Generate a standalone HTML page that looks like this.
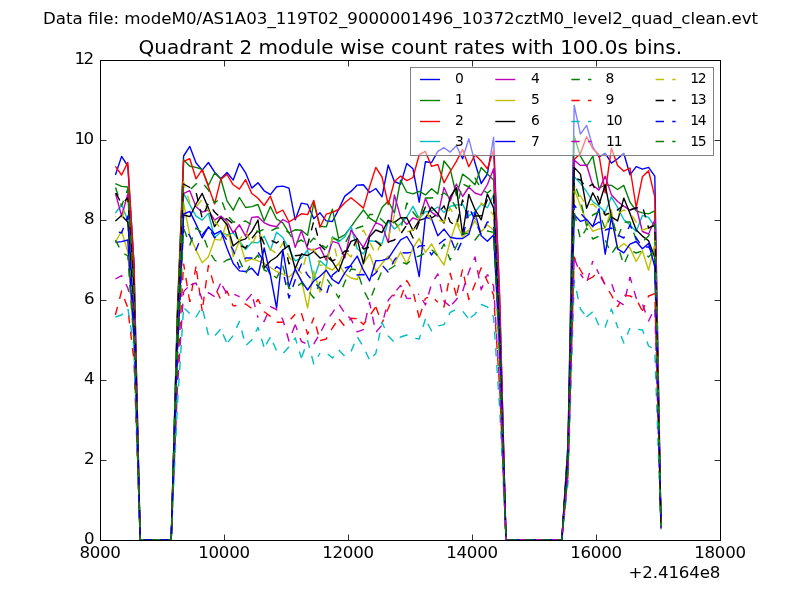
<!DOCTYPE html>
<html><head><meta charset="utf-8"><title>Quadrant 2 module wise count rates</title>
<style>
html,body{margin:0;padding:0;background:#fff;}
svg{display:block;}
text{font-family:"DejaVu Sans","Liberation Sans",sans-serif;fill:#000;}
.ln{fill:none;stroke-width:1.39;stroke-linejoin:round;}
.ds{stroke-dasharray:8.33 8.33;}
.tk{stroke:#000;stroke-width:1;stroke-opacity:0.8;}
.t12{font-size:16.67px;}
.tl{letter-spacing:-0.3px;}
.t10{font-size:13.89px;}
</style></head><body>
<svg width="800" height="600" viewBox="0 0 800 600">
<rect x="0" y="0" width="800" height="600" fill="#ffffff"/>
<defs><clipPath id="ax"><rect x="100" y="60" width="620" height="480.7"/></clipPath></defs>
<g clip-path="url(#ax)">
<polyline class="ln" stroke="#0000ff" points="115.4,175.0 121.6,156.4 127.8,166.0 134.0,263.1 140.2,540.0 171.2,540.0 177.4,317.3 183.6,156.0 189.8,146.4 196.0,162.7 202.2,170.1 208.4,162.5 214.6,172.1 220.8,178.8 227.0,172.5 233.2,180.1 239.4,163.4 245.6,172.8 251.8,188.1 258.0,182.8 264.2,190.8 270.4,194.6 276.6,186.8 282.8,186.1 289.0,188.2 295.2,219.9 301.4,203.1 307.6,204.4 313.8,218.8 320.0,212.8 326.2,220.9 332.4,221.5 338.6,209.5 344.8,196.1 351.0,191.4 357.2,185.1 363.4,184.7 369.6,192.5 375.8,188.5 382.0,196.8 388.2,165.0 394.4,181.5 400.6,184.2 406.8,163.4 413.0,168.8 419.2,202.2 425.4,161.8 431.6,162.5 437.8,151.4 444.0,147.7 450.2,152.1 456.4,145.8 462.6,158.8 468.8,138.7 475.0,162.8 481.2,183.5 487.4,174.0 493.6,137.3 499.8,306.4 506.0,540.0 561.8,540.0 568.0,444.4 574.2,105.3 580.4,134.1 586.6,125.4 592.8,146.8 599.0,156.8 605.2,153.2 611.4,163.1 617.6,158.8 623.8,153.2 630.0,174.8 636.2,166.6 642.4,169.1 648.6,167.3 654.8,176.1 661.0,526.5"/>
<polyline class="ln" stroke="#008000" points="115.4,183.6 121.6,186.4 127.8,187.0 134.0,284.9 140.2,540.0 171.2,540.0 177.4,308.1 183.6,159.8 189.8,166.3 196.0,167.4 202.2,169.4 208.4,185.5 214.6,173.0 220.8,178.8 227.0,200.9 233.2,210.2 239.4,197.5 245.6,207.5 251.8,206.6 258.0,204.5 264.2,221.0 270.4,206.5 276.6,219.0 282.8,222.9 289.0,232.9 295.2,229.8 301.4,230.2 307.6,235.2 313.8,203.1 320.0,226.2 326.2,226.9 332.4,209.2 338.6,238.2 344.8,234.9 351.0,226.9 357.2,218.2 363.4,209.8 369.6,218.2 375.8,222.2 382.0,207.5 388.2,201.0 394.4,213.0 400.6,180.2 406.8,192.2 413.0,193.9 419.2,191.3 425.4,194.9 431.6,188.8 437.8,193.9 444.0,161.0 450.2,168.8 456.4,195.5 462.6,174.1 468.8,178.8 475.0,184.8 481.2,167.4 487.4,174.0 493.6,180.0 499.8,324.0 506.0,540.0 561.8,540.0 568.0,445.1 574.2,136.1 580.4,156.2 586.6,166.5 592.8,156.0 599.0,188.1 605.2,185.0 611.4,185.4 617.6,189.5 623.8,185.4 630.0,202.2 636.2,210.9 642.4,212.9 648.6,213.9 654.8,210.9 661.0,527.0"/>
<polyline class="ln" stroke="#ff0000" points="115.4,166.4 121.6,175.0 127.8,162.4 134.0,264.7 140.2,540.0 171.2,540.0 177.4,316.6 183.6,161.4 189.8,158.7 196.0,178.8 202.2,169.7 208.4,186.8 214.6,203.9 220.8,179.1 227.0,174.5 233.2,184.8 239.4,189.1 245.6,179.7 251.8,193.5 258.0,198.2 264.2,205.5 270.4,196.2 276.6,213.3 282.8,210.0 289.0,222.0 295.2,218.2 301.4,213.8 307.6,214.6 313.8,200.4 320.0,227.3 326.2,214.2 332.4,212.4 338.6,209.5 344.8,202.8 351.0,197.8 357.2,202.8 363.4,208.1 369.6,186.7 375.8,167.4 382.0,177.0 388.2,204.5 394.4,181.5 400.6,176.1 406.8,180.6 413.0,177.5 419.2,154.7 425.4,151.4 431.6,166.4 437.8,164.5 444.0,182.8 450.2,171.5 456.4,161.4 462.6,149.4 468.8,166.8 475.0,154.7 481.2,161.0 487.4,168.7 493.6,150.0 499.8,298.2 506.0,540.0 561.8,540.0 568.0,454.4 574.2,159.5 580.4,153.5 586.6,136.8 592.8,148.8 599.0,154.8 605.2,192.8 611.4,148.2 617.6,165.4 623.8,171.2 630.0,168.0 636.2,207.5 642.4,176.8 648.6,170.8 654.8,196.8 661.0,527.5"/>
<polyline class="ln" stroke="#00bfbf" points="115.4,213.0 121.6,205.0 127.8,220.0 134.0,304.3 140.2,540.0 171.2,540.0 177.4,325.1 183.6,193.4 189.8,204.7 196.0,216.1 202.2,220.1 208.4,213.4 214.6,237.5 220.8,232.2 227.0,234.8 233.2,232.8 239.4,240.9 245.6,249.5 251.8,242.2 258.0,242.9 264.2,236.2 270.4,250.2 276.6,232.2 282.8,237.5 289.0,248.8 295.2,260.8 301.4,258.1 307.6,250.0 313.8,279.5 320.0,260.8 326.2,266.2 332.4,236.7 338.6,242.1 344.8,236.7 351.0,226.0 357.2,248.8 363.4,254.0 369.6,240.8 375.8,241.4 382.0,244.0 388.2,221.0 394.4,229.0 400.6,223.8 406.8,217.0 413.0,206.4 419.2,218.4 425.4,211.7 431.6,211.0 437.8,207.0 444.0,212.4 450.2,206.4 456.4,205.0 462.6,204.4 468.8,215.8 475.0,211.7 481.2,204.4 487.4,207.7 493.6,195.0 499.8,336.5 506.0,540.0 561.8,540.0 568.0,452.8 574.2,176.7 580.4,183.4 586.6,191.5 592.8,201.5 599.0,206.2 605.2,212.2 611.4,196.8 617.6,207.5 623.8,219.5 630.0,225.0 636.2,231.4 642.4,215.4 648.6,217.4 654.8,226.7 661.0,526.5"/>
<polyline class="ln" stroke="#bf00bf" points="115.4,193.0 121.6,216.0 127.8,194.0 134.0,302.7 140.2,540.0 171.2,540.0 177.4,332.0 183.6,193.4 189.8,190.7 196.0,206.7 202.2,212.1 208.4,210.1 214.6,220.1 220.8,216.1 227.0,221.5 233.2,232.8 239.4,224.8 245.6,236.2 251.8,217.4 258.0,216.8 264.2,222.8 270.4,225.5 276.6,226.8 282.8,219.5 289.0,223.0 295.2,247.4 301.4,230.7 307.6,248.8 313.8,250.1 320.0,247.4 326.2,260.2 332.4,241.4 338.6,243.4 344.8,258.1 351.0,230.0 357.2,238.8 363.4,247.4 369.6,234.7 375.8,222.7 382.0,225.3 388.2,242.5 394.4,195.0 400.6,217.1 406.8,224.5 413.0,217.8 419.2,220.4 425.4,198.4 431.6,212.4 437.8,216.4 444.0,187.5 450.2,201.0 456.4,184.0 462.6,196.5 468.8,187.0 475.0,193.0 481.2,195.2 487.4,184.5 493.6,168.7 499.8,313.5 506.0,540.0 561.8,540.0 568.0,452.6 574.2,160.0 580.4,165.4 586.6,165.0 592.8,185.4 599.0,190.1 605.2,176.1 611.4,194.8 617.6,201.5 623.8,206.2 630.0,210.2 636.2,207.0 642.4,231.5 648.6,234.0 654.8,220.0 661.0,527.0"/>
<polyline class="ln" stroke="#bfbf00" points="115.4,242.0 121.6,231.0 127.8,252.0 134.0,343.1 140.2,540.0 171.2,540.0 177.4,344.5 183.6,203.0 189.8,235.4 196.0,250.1 202.2,262.8 208.4,256.8 214.6,239.4 220.8,240.1 227.0,222.0 233.2,256.8 239.4,240.8 245.6,261.5 251.8,258.8 258.0,260.8 264.2,263.5 270.4,267.5 276.6,271.5 282.8,274.2 289.0,277.0 295.2,271.0 301.4,280.0 307.6,308.0 313.8,271.0 320.0,292.0 326.2,267.0 332.4,270.0 338.6,263.5 344.8,274.0 351.0,278.0 357.2,279.5 363.4,263.5 369.6,254.0 375.8,271.5 382.0,263.5 388.2,256.0 394.4,264.0 400.6,252.0 406.8,264.0 413.0,248.0 419.2,238.5 425.4,252.5 431.6,243.8 437.8,255.9 444.0,265.0 450.2,241.0 456.4,222.4 462.6,237.0 468.8,230.5 475.0,221.0 481.2,231.8 487.4,225.0 493.6,230.0 499.8,360.2 506.0,540.0 561.8,540.0 568.0,462.7 574.2,188.8 580.4,206.0 586.6,221.4 592.8,231.4 599.0,228.8 605.2,228.1 611.4,210.0 617.6,248.8 623.8,243.5 630.0,248.1 636.2,261.5 642.4,250.8 648.6,270.2 654.8,244.1 661.0,527.5"/>
<polyline class="ln" stroke="#000000" points="115.4,221.0 121.6,215.6 127.8,222.0 134.0,306.1 140.2,540.0 171.2,540.0 177.4,341.8 183.6,215.0 189.8,216.7 196.0,204.0 202.2,193.4 208.4,208.0 214.6,226.7 220.8,217.4 227.0,224.7 233.2,246.0 239.4,240.8 245.6,238.8 251.8,231.4 258.0,220.0 264.2,268.0 270.4,261.0 276.6,257.0 282.8,250.0 289.0,245.4 295.2,268.8 301.4,254.1 307.6,255.5 313.8,251.5 320.0,258.1 326.2,256.1 332.4,261.5 338.6,271.5 344.8,254.8 351.0,241.4 357.2,238.8 363.4,263.5 369.6,236.7 375.8,230.0 382.0,232.5 388.2,220.4 394.4,222.4 400.6,217.8 406.8,217.8 413.0,230.5 419.2,220.4 425.4,218.4 431.6,207.0 437.8,213.8 444.0,223.0 450.2,197.0 456.4,187.7 462.6,234.5 468.8,194.4 475.0,209.7 481.2,219.8 487.4,194.0 493.6,208.0 499.8,340.8 506.0,540.0 561.8,540.0 568.0,452.4 574.2,167.4 580.4,174.1 586.6,208.2 592.8,192.8 599.0,204.8 605.2,184.8 611.4,216.9 617.6,220.9 623.8,198.1 630.0,213.5 636.2,230.1 642.4,236.1 648.6,240.8 654.8,257.5 661.0,526.5"/>
<polyline class="ln" stroke="#0000ff" points="115.4,242.4 121.6,241.6 127.8,240.0 134.0,336.9 140.2,540.0 171.2,540.0 177.4,347.7 183.6,214.0 189.8,211.4 196.0,224.1 202.2,238.0 208.4,226.8 214.6,234.2 220.8,230.8 227.0,248.2 233.2,263.5 239.4,270.9 245.6,271.5 251.8,268.2 258.0,275.5 264.2,248.0 270.4,275.0 276.6,308.0 282.8,250.0 289.0,287.0 295.2,268.8 301.4,280.9 307.6,290.0 313.8,281.0 320.0,276.2 326.2,270.2 332.4,279.5 338.6,283.6 344.8,272.9 351.0,264.8 357.2,256.1 363.4,270.2 369.6,280.9 375.8,260.8 382.0,260.4 388.2,258.6 394.4,249.2 400.6,239.8 406.8,236.5 413.0,246.5 419.2,276.6 425.4,217.1 431.6,219.1 437.8,235.8 444.0,229.1 450.2,237.2 456.4,238.5 462.6,238.5 468.8,234.5 475.0,212.4 481.2,235.8 487.4,241.2 493.6,235.0 499.8,350.9 506.0,540.0 561.8,540.0 568.0,466.8 574.2,214.7 580.4,221.4 586.6,219.4 592.8,226.7 599.0,208.7 605.2,254.2 611.4,217.4 617.6,248.8 623.8,252.8 630.0,244.1 636.2,241.5 642.4,248.8 648.6,243.5 654.8,266.9 661.0,527.0"/>
<polyline class="ln ds" stroke="#008000" stroke-dashoffset="16.12" points="115.4,187.0 121.6,206.0 127.8,189.0 134.0,290.9 140.2,540.0 171.2,540.0 177.4,320.5 183.6,186.0 189.8,190.0 196.0,184.0 202.2,182.5 208.4,190.0 214.6,203.0 220.8,198.0 227.0,215.0 233.2,222.0 239.4,222.0 245.6,221.0 251.8,225.0 258.0,232.0 264.2,229.0 270.4,231.0 276.6,228.0 282.8,228.0 289.0,233.0 295.2,243.0 301.4,240.0 307.6,245.0 313.8,238.0 320.0,244.0 326.2,248.0 332.4,238.0 338.6,240.0 344.8,244.0 351.0,232.0 357.2,228.0 363.4,226.0 369.6,214.5 375.8,214.5 382.0,220.0 388.2,226.0 394.4,222.0 400.6,230.0 406.8,203.0 413.0,212.0 419.2,220.0 425.4,198.0 431.6,198.0 437.8,197.0 444.0,193.0 450.2,197.5 456.4,208.4 462.6,184.0 468.8,187.0 475.0,178.0 481.2,189.0 487.4,193.0 493.6,188.0 499.8,332.3 506.0,540.0 561.8,540.0 568.0,454.3 574.2,183.0 580.4,200.0 586.6,226.0 592.8,215.0 599.0,212.0 605.2,229.0 611.4,215.0 617.6,238.0 623.8,222.0 630.0,222.0 636.2,240.0 642.4,242.0 648.6,236.0 654.8,224.0 661.0,527.5"/>
<polyline class="ln ds" stroke="#ff0000" stroke-dashoffset="0.00" points="115.4,315.0 121.6,291.0 127.8,308.0 134.0,361.1 140.2,540.0 171.2,540.0 177.4,374.2 183.6,263.7"/>
<polyline class="ln ds" stroke="#ff0000" stroke-dashoffset="2.38" points="183.6,263.7 189.8,302.0"/>
<polyline class="ln ds" stroke="#ff0000" stroke-dashoffset="5.61" points="189.8,302.0 196.0,266.4"/>
<polyline class="ln ds" stroke="#ff0000" stroke-dashoffset="11.99" points="196.0,266.4 202.2,311.0"/>
<polyline class="ln ds" stroke="#ff0000" stroke-dashoffset="10.49" points="202.2,311.0 208.4,265.5 214.6,287.0 220.8,299.4 227.0,291.0 233.2,306.0"/>
<polyline class="ln ds" stroke="#ff0000" stroke-dashoffset="5.24" points="233.2,306.0 239.4,305.0 245.6,304.0 251.8,308.5 258.0,299.4 264.2,311.7 270.4,316.4 276.6,322.3 282.8,322.3"/>
<polyline class="ln ds" stroke="#ff0000" stroke-dashoffset="7.87" points="282.8,322.3 289.0,321.0 295.2,314.3"/>
<polyline class="ln ds" stroke="#ff0000" stroke-dashoffset="10.22" points="295.2,314.3 301.4,313.0 307.6,334.2 313.8,317.7"/>
<polyline class="ln ds" stroke="#ff0000" stroke-dashoffset="7.57" points="313.8,317.7 320.0,340.6"/>
<polyline class="ln ds" stroke="#ff0000" stroke-dashoffset="0.06" points="320.0,340.6 326.2,339.0 332.4,328.0 338.6,318.6"/>
<polyline class="ln ds" stroke="#ff0000" stroke-dashoffset="15.86" points="338.6,318.6 344.8,326.3 351.0,318.3 357.2,318.6"/>
<polyline class="ln ds" stroke="#ff0000" stroke-dashoffset="12.05" points="357.2,318.6 363.4,324.5 369.6,315.9 375.8,306.7"/>
<polyline class="ln ds" stroke="#ff0000" stroke-dashoffset="16.40" points="375.8,306.7 382.0,323.2"/>
<polyline class="ln ds" stroke="#ff0000" stroke-dashoffset="4.34" points="382.0,323.2 388.2,308.5 394.4,294.4"/>
<polyline class="ln ds" stroke="#ff0000" stroke-dashoffset="8.42" points="394.4,294.4 400.6,298.5 406.8,280.5 413.0,291.0 419.2,317.9"/>
<polyline class="ln ds" stroke="#ff0000" stroke-dashoffset="15.34" points="419.2,317.9 425.4,298.3"/>
<polyline class="ln ds" stroke="#ff0000" stroke-dashoffset="5.47" points="425.4,298.3 431.6,296.0 437.8,302.3"/>
<polyline class="ln ds" stroke="#ff0000" stroke-dashoffset="9.79" points="437.8,302.3 444.0,306.9 450.2,273.3 456.4,295.9"/>
<polyline class="ln ds" stroke="#ff0000" stroke-dashoffset="13.76" points="456.4,295.9 462.6,269.3"/>
<polyline class="ln ds" stroke="#ff0000" stroke-dashoffset="9.14" points="462.6,269.3 468.8,299.5 475.0,284.0 481.2,267.8 487.4,281.2 493.6,295.0 499.8,390.6 506.0,540.0 561.8,540.0 568.0,474.9 574.2,257.0 580.4,270.0 586.6,280.4 592.8,277.0 599.0,271.0"/>
<polyline class="ln ds" stroke="#ff0000" stroke-dashoffset="10.78" points="599.0,271.0 605.2,285.0 611.4,295.0 617.6,307.0"/>
<polyline class="ln ds" stroke="#ff0000" stroke-dashoffset="2.62" points="617.6,307.0 623.8,295.0 630.0,296.0 636.2,299.0 642.4,311.0"/>
<polyline class="ln ds" stroke="#ff0000" stroke-dashoffset="2.00" points="642.4,311.0 648.6,296.0 654.8,293.6 661.0,526.5"/>
<polyline class="ln ds" stroke="#00bfbf" stroke-dashoffset="0.00" points="115.4,317.0 121.6,315.0 127.8,308.0 134.0,347.3 140.2,540.0 171.2,540.0 177.4,405.2 183.6,307.6"/>
<polyline class="ln ds" stroke="#00bfbf" stroke-dashoffset="15.49" points="183.6,307.6 189.8,313.5"/>
<polyline class="ln ds" stroke="#00bfbf" stroke-dashoffset="10.00" points="189.8,313.5 196.0,317.0 202.2,306.7 208.4,335.5"/>
<polyline class="ln ds" stroke="#00bfbf" stroke-dashoffset="9.85" points="208.4,335.5 214.6,336.0 220.8,329.0"/>
<polyline class="ln ds" stroke="#00bfbf" stroke-dashoffset="10.97" points="220.8,329.0 227.0,343.4"/>
<polyline class="ln ds" stroke="#00bfbf" stroke-dashoffset="15.11" points="227.0,343.4 233.2,335.5 239.4,321.4 245.6,345.7 251.8,340.0 258.0,327.4 264.2,347.6"/>
<polyline class="ln ds" stroke="#00bfbf" stroke-dashoffset="12.85" points="264.2,347.6 270.4,337.0"/>
<polyline class="ln ds" stroke="#00bfbf" stroke-dashoffset="10.32" points="270.4,337.0 276.6,350.7 282.8,353.8 289.0,346.8 295.2,337.9 301.4,358.0"/>
<polyline class="ln ds" stroke="#00bfbf" stroke-dashoffset="15.62" points="301.4,358.0 307.6,340.6 313.8,364.0 320.0,353.0"/>
<polyline class="ln ds" stroke="#00bfbf" stroke-dashoffset="8.33" points="320.0,353.0 326.2,352.5 332.4,358.0 338.6,349.8 344.8,356.2 351.0,351.6 357.2,336.6 363.4,347.0 369.6,359.9"/>
<polyline class="ln ds" stroke="#00bfbf" stroke-dashoffset="11.44" points="369.6,359.9 375.8,353.4 382.0,322.3 388.2,336.0 394.4,342.4 400.6,337.0 406.8,335.0 413.0,338.0 419.2,339.0 425.4,319.0"/>
<polyline class="ln ds" stroke="#00bfbf" stroke-dashoffset="11.36" points="425.4,319.0 431.6,331.0 437.8,326.0 444.0,324.6 450.2,312.4 456.4,309.3 462.6,311.0 468.8,319.0"/>
<polyline class="ln ds" stroke="#00bfbf" stroke-dashoffset="14.25" points="468.8,319.0 475.0,314.2 481.2,304.5 487.4,306.9 493.6,317.0 499.8,410.7 506.0,540.0 561.8,540.0 568.0,482.8 574.2,280.0"/>
<polyline class="ln ds" stroke="#00bfbf" stroke-dashoffset="5.51" points="574.2,280.0 580.4,309.0 586.6,317.0"/>
<polyline class="ln ds" stroke="#00bfbf" stroke-dashoffset="0.29" points="586.6,317.0 592.8,311.6"/>
<polyline class="ln ds" stroke="#00bfbf" stroke-dashoffset="10.16" points="592.8,311.6 599.0,325.6"/>
<polyline class="ln ds" stroke="#00bfbf" stroke-dashoffset="10.84" points="599.0,325.6 605.2,327.0 611.4,309.0 617.6,327.0"/>
<polyline class="ln ds" stroke="#00bfbf" stroke-dashoffset="6.94" points="617.6,327.0 623.8,343.0 630.0,328.0"/>
<polyline class="ln ds" stroke="#00bfbf" stroke-dashoffset="8.35" points="630.0,328.0 636.2,329.0 642.4,330.0 648.6,346.0 654.8,350.0 661.0,529.5"/>
<polyline class="ln ds" stroke="#bf00bf" stroke-dashoffset="0.00" points="115.4,279.0 121.6,275.6 127.8,288.0 134.0,312.0 140.2,540.0 171.2,540.0 177.4,388.4 183.6,291.5"/>
<polyline class="ln ds" stroke="#bf00bf" stroke-dashoffset="2.49" points="183.6,291.5 189.8,285.3"/>
<polyline class="ln ds" stroke="#bf00bf" stroke-dashoffset="15.63" points="189.8,285.3 196.0,282.9 202.2,299.4"/>
<polyline class="ln ds" stroke="#bf00bf" stroke-dashoffset="8.26" points="202.2,299.4 208.4,292.6 214.6,296.6"/>
<polyline class="ln ds" stroke="#bf00bf" stroke-dashoffset="10.65" points="214.6,296.6 220.8,282.9"/>
<polyline class="ln ds" stroke="#bf00bf" stroke-dashoffset="13.27" points="220.8,282.9 227.0,293.9 233.2,293.9 239.4,296.6"/>
<polyline class="ln ds" stroke="#bf00bf" stroke-dashoffset="7.93" points="239.4,296.6 245.6,301.2 251.8,293.9"/>
<polyline class="ln ds" stroke="#bf00bf" stroke-dashoffset="11.27" points="251.8,293.9 258.0,317.7"/>
<polyline class="ln ds" stroke="#bf00bf" stroke-dashoffset="10.56" points="258.0,317.7 264.2,321.4 270.4,306.7 276.6,309.5 282.8,319.5 289.0,341.0 295.2,324.5"/>
<polyline class="ln ds" stroke="#bf00bf" stroke-dashoffset="2.34" points="295.2,324.5 301.4,341.5 307.6,344.3 313.8,343.9 320.0,333.3"/>
<polyline class="ln ds" stroke="#bf00bf" stroke-dashoffset="13.74" points="320.0,333.3 326.2,321.4 332.4,312.8 338.6,303.6 344.8,313.1"/>
<polyline class="ln ds" stroke="#bf00bf" stroke-dashoffset="11.72" points="344.8,313.1 351.0,319.0 357.2,331.8 363.4,329.6 369.6,302.5 375.8,332.4 382.0,325.0 388.2,300.3 394.4,293.0"/>
<polyline class="ln ds" stroke="#bf00bf" stroke-dashoffset="13.28" points="394.4,293.0 400.6,285.4 406.8,298.3 413.0,298.6 419.2,294.0"/>
<polyline class="ln ds" stroke="#bf00bf" stroke-dashoffset="9.75" points="419.2,294.0 425.4,305.0 431.6,284.0 437.8,273.9 444.0,301.4 450.2,306.3"/>
<polyline class="ln ds" stroke="#bf00bf" stroke-dashoffset="13.78" points="450.2,306.3 456.4,299.5 462.6,291.3 468.8,272.0 475.0,256.9 481.2,289.8 487.4,274.4"/>
<polyline class="ln ds" stroke="#bf00bf" stroke-dashoffset="6.00" points="487.4,274.4 493.6,285.8 499.8,387.5 506.0,540.0 561.8,540.0 568.0,473.7 574.2,258.0"/>
<polyline class="ln ds" stroke="#bf00bf" stroke-dashoffset="15.48" points="574.2,258.0 580.4,274.0"/>
<polyline class="ln ds" stroke="#bf00bf" stroke-dashoffset="3.48" points="580.4,274.0 586.6,283.0 592.8,261.0"/>
<polyline class="ln ds" stroke="#bf00bf" stroke-dashoffset="7.55" points="592.8,261.0 599.0,274.0"/>
<polyline class="ln ds" stroke="#bf00bf" stroke-dashoffset="12.90" points="599.0,274.0 605.2,285.0 611.4,283.0 617.6,301.0 623.8,305.0 630.0,277.0"/>
<polyline class="ln ds" stroke="#bf00bf" stroke-dashoffset="2.15" points="630.0,277.0 636.2,298.0 642.4,304.0 648.6,321.0 654.8,308.0 661.0,528.5"/>
<polyline class="ln ds" stroke="#bfbf00" stroke-dashoffset="7.66" points="115.4,216.5 121.6,220.0 127.8,198.1 134.0,303.5 140.2,540.0 171.2,540.0 177.4,328.8 183.6,182.0 189.8,203.0 196.0,207.5 202.2,199.0 208.4,210.5 214.6,221.0 220.8,228.5 227.0,236.2 233.2,233.6 239.4,240.5 245.6,230.8 251.8,245.5 258.0,231.1 264.2,242.0 270.4,249.1 276.6,253.8 282.8,243.0 289.0,257.0 295.2,265.0 301.4,273.3 307.6,251.0 313.8,248.8 320.0,265.3 326.2,265.0 332.4,238.0 338.6,264.0 344.8,251.1 351.0,257.0 357.2,240.0 363.4,230.0 369.6,242.0 375.8,254.0 382.0,242.0 388.2,238.5 394.4,215.0 400.6,233.0 406.8,232.0 413.0,230.0 419.2,218.0 425.4,210.0 431.6,221.1 437.8,220.0 444.0,222.0 450.2,208.0 456.4,220.0 462.6,234.0 468.8,230.0 475.0,220.0 481.2,203.0 487.4,207.0 493.6,215.6 499.8,338.9 506.0,540.0 561.8,540.0 568.0,460.4 574.2,186.0 580.4,196.0 586.6,206.0 592.8,204.0 599.0,210.0 605.2,215.0 611.4,213.0 617.6,214.0 623.8,210.0 630.0,213.0 636.2,222.0 642.4,230.0 648.6,228.0 654.8,232.0 661.0,526.5"/>
<polyline class="ln ds" stroke="#000000" stroke-dashoffset="15.41" points="115.4,192.0 121.6,204.0 127.8,198.0 134.0,286.9 140.2,540.0 171.2,540.0 177.4,319.3 183.6,184.0 189.8,187.5 196.0,192.0 202.2,218.3 208.4,203.0 214.6,212.0 220.8,218.0 227.0,219.0 233.2,224.0 239.4,245.0 245.6,248.0 251.8,238.5 258.0,230.5 264.2,244.0 270.4,240.0 276.6,243.0 282.8,238.0 289.0,263.8 295.2,255.8 301.4,255.0 307.6,245.0 313.8,221.0 320.0,245.0 326.2,251.0 332.4,261.0 338.6,257.5 344.8,251.0 351.0,251.0 357.2,239.0 363.4,249.0 369.6,247.0 375.8,241.0 382.0,246.5 388.2,242.0 394.4,240.0 400.6,234.0 406.8,225.0 413.0,238.0 419.2,222.0 425.4,207.0 431.6,218.0 437.8,214.0 444.0,205.8 450.2,222.0 456.4,226.0 462.6,199.9 468.8,220.0 475.0,216.0 481.2,215.9 487.4,199.4 493.6,194.7 499.8,336.2 506.0,540.0 561.8,540.0 568.0,453.1 574.2,178.0 580.4,180.0 586.6,188.0 592.8,184.0 599.0,200.0 605.2,215.0 611.4,212.0 617.6,210.0 623.8,205.0 630.0,210.0 636.2,208.0 642.4,206.0 648.6,228.0 654.8,225.0 661.0,527.0"/>
<polyline class="ln ds" stroke="#0000ff" stroke-dashoffset="12.94" points="115.4,231.0 121.6,233.0 127.8,216.0 134.0,320.7 140.2,540.0 171.2,540.0 177.4,351.6 183.6,226.0 189.8,236.0 196.0,250.0 202.2,235.0 208.4,227.0 214.6,238.0 220.8,232.0 227.0,240.0 233.2,250.0 239.4,268.0 245.6,258.0 251.8,258.0 258.0,252.0 264.2,262.0 270.4,275.0 276.6,266.6 282.8,270.7 289.0,298.0 295.2,280.0 301.4,264.0 307.6,275.0 313.8,282.0 320.0,288.0 326.2,295.0 332.4,275.0 338.6,270.0 344.8,268.0 351.0,266.0 357.2,275.0 363.4,274.5 369.6,278.0 375.8,273.0 382.0,265.0 388.2,272.0 394.4,260.0 400.6,252.6 406.8,253.0 413.0,252.0 419.2,246.0 425.4,245.6 431.6,255.0 437.8,245.0 444.0,240.0 450.2,237.0 456.4,253.0 462.6,240.0 468.8,207.0 475.0,220.0 481.2,235.0 487.4,221.9 493.6,223.4 499.8,346.9 506.0,540.0 561.8,540.0 568.0,462.9 574.2,205.0 580.4,213.0 586.6,220.0 592.8,226.0 599.0,222.0 605.2,230.0 611.4,228.0 617.6,235.0 623.8,238.0 630.0,225.0 636.2,238.0 642.4,247.0 648.6,247.0 654.8,255.0 661.0,527.5"/>
<polyline class="ln ds" stroke="#008000" points="115.4,240.0 121.6,252.0 127.8,256.0 134.0,342.3 140.2,540.0 171.2,540.0 177.4,359.0 183.6,228.0 189.8,245.0 196.0,228.0 202.2,233.0 208.4,250.0 214.6,260.0 220.8,264.0 227.0,260.0 233.2,258.0 239.4,260.0 245.6,274.0 251.8,262.0 258.0,255.0 264.2,270.0 270.4,273.0 276.6,278.0 282.8,266.0 289.0,288.5 295.2,288.0 301.4,283.0 307.6,290.0 313.8,298.0 320.0,282.0 326.2,278.0 332.4,287.0 338.6,298.0 344.8,282.0 351.0,269.0 357.2,270.0 363.4,290.0 369.6,301.5 375.8,285.0 382.0,271.0 388.2,270.0 394.4,266.0 400.6,262.0 406.8,264.0 413.0,258.0 419.2,256.0 425.4,253.0 431.6,249.6 437.8,256.0 444.0,244.1 450.2,260.0 456.4,246.0 462.6,233.0 468.8,234.0 475.0,240.0 481.2,232.0 487.4,231.0 493.6,232.4 499.8,361.6 506.0,540.0 561.8,540.0 568.0,467.8 574.2,212.0 580.4,239.0 586.6,228.0 592.8,239.0 599.0,236.0 605.2,240.0 611.4,254.0 617.6,245.0 623.8,265.0 630.0,250.0 636.2,253.0 642.4,251.0 648.6,257.0 654.8,250.0 661.0,526.5"/>
</g>
<path class="tk" d="M100.5 540.5v-6.00M100.5 60.5v6.00"/>
<path class="tk" d="M224.5 540.5v-6.00M224.5 60.5v6.00"/>
<path class="tk" d="M348.5 540.5v-6.00M348.5 60.5v6.00"/>
<path class="tk" d="M472.5 540.5v-6.00M472.5 60.5v6.00"/>
<path class="tk" d="M596.5 540.5v-6.00M596.5 60.5v6.00"/>
<path class="tk" d="M720.5 540.5v-6.00M720.5 60.5v6.00"/>
<path class="tk" d="M100.5 540.5h6.00M720.5 540.5h-6.00"/>
<path class="tk" d="M100.5 460.5h6.00M720.5 460.5h-6.00"/>
<path class="tk" d="M100.5 380.5h6.00M720.5 380.5h-6.00"/>
<path class="tk" d="M100.5 300.5h6.00M720.5 300.5h-6.00"/>
<path class="tk" d="M100.5 220.5h6.00M720.5 220.5h-6.00"/>
<path class="tk" d="M100.5 140.5h6.00M720.5 140.5h-6.00"/>
<path class="tk" d="M100.5 60.5h6.00M720.5 60.5h-6.00"/>
<rect x="100.5" y="60.5" width="620" height="480" fill="none" stroke="#000" stroke-width="1"/>
<text class="t12 tl" x="100.0" y="557.7" text-anchor="middle">8000</text>
<text class="t12 tl" x="224.0" y="557.7" text-anchor="middle">10000</text>
<text class="t12 tl" x="348.0" y="557.7" text-anchor="middle">12000</text>
<text class="t12 tl" x="472.0" y="557.7" text-anchor="middle">14000</text>
<text class="t12 tl" x="596.0" y="557.7" text-anchor="middle">16000</text>
<text class="t12 tl" x="720.0" y="557.7" text-anchor="middle">18000</text>
<text class="t12 tl" x="94.4" y="544.3" text-anchor="end">0</text>
<text class="t12 tl" x="94.4" y="464.3" text-anchor="end">2</text>
<text class="t12 tl" x="94.4" y="384.3" text-anchor="end">4</text>
<text class="t12 tl" x="94.4" y="304.3" text-anchor="end">6</text>
<text class="t12 tl" x="94.4" y="224.3" text-anchor="end">8</text>
<text class="t12" x="92.5" y="144.3" text-anchor="end" style="letter-spacing:-1.6px">10</text>
<text class="t12" x="92.5" y="64.3" text-anchor="end" style="letter-spacing:-1.6px">12</text>
<text class="t12" x="720.3" y="577.6" text-anchor="end" style="letter-spacing:-0.15px">+2.4164e8</text>
<text x="138.6" y="53.8" textLength="543.4" style="font-size:20px">Quadrant 2 module wise count rates with 100.0s bins.</text>
<text class="t12" x="42.9" y="24.3" textLength="715.2">Data file: modeM0/AS1A03_119T02_9000001496_10372cztM0_level2_quad_clean.evt</text>
<rect x="410.5" y="67.5" width="303" height="88" fill="#ffffff" fill-opacity="0.5" stroke="#808080" stroke-width="1"/>
<path class="ln" stroke="#0000ff" d="M420.0 79.5h20"/>
<text class="t10" x="455.0" y="83.3">0</text>
<path class="ln" stroke="#008000" d="M420.0 100.5h20"/>
<text class="t10" x="455.0" y="104.1">1</text>
<path class="ln" stroke="#ff0000" d="M420.0 121.5h20"/>
<text class="t10" x="455.0" y="125.0">2</text>
<path class="ln" stroke="#00bfbf" d="M420.0 141.5h20"/>
<text class="t10" x="455.0" y="146.3">3</text>
<path class="ln" stroke="#bf00bf" d="M495.3 79.5h20"/>
<text class="t10" x="531.0" y="83.3">4</text>
<path class="ln" stroke="#bfbf00" d="M495.3 100.5h20"/>
<text class="t10" x="531.0" y="104.1">5</text>
<path class="ln" stroke="#000000" d="M495.3 121.5h20"/>
<text class="t10" x="531.0" y="125.0">6</text>
<path class="ln" stroke="#0000ff" d="M495.3 141.5h20"/>
<text class="t10" x="531.0" y="146.3">7</text>
<path class="ln ds" stroke="#008000" d="M571.4 79.5h20"/>
<text class="t10" x="605.6" y="83.3">8</text>
<path class="ln ds" stroke="#ff0000" d="M571.4 100.5h20"/>
<text class="t10" x="605.6" y="104.1">9</text>
<path class="ln ds" stroke="#00bfbf" d="M571.4 121.5h20"/>
<text class="t10" x="606.1" y="125.0" style="letter-spacing:-1.2px">10</text>
<path class="ln ds" stroke="#bf00bf" d="M571.4 141.5h20"/>
<text class="t10" x="606.1" y="146.3" style="letter-spacing:-1.2px">11</text>
<path class="ln ds" stroke="#bfbf00" d="M655.6 79.5h20"/>
<text class="t10" x="690.2" y="83.3" style="letter-spacing:-1.2px">12</text>
<path class="ln ds" stroke="#000000" d="M655.6 100.5h20"/>
<text class="t10" x="690.2" y="104.1" style="letter-spacing:-1.2px">13</text>
<path class="ln ds" stroke="#0000ff" d="M655.6 121.5h20"/>
<text class="t10" x="690.2" y="125.0" style="letter-spacing:-1.2px">14</text>
<path class="ln ds" stroke="#008000" d="M655.6 141.5h20"/>
<text class="t10" x="690.2" y="146.3" style="letter-spacing:-1.2px">15</text>
</svg></body></html>
